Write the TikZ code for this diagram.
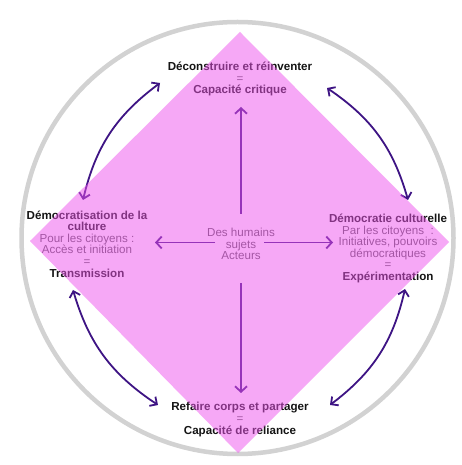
\documentclass[tikz,border=0pt]{standalone}
\usepackage{fontspec}
\setmainfont{Liberation Sans}
\usetikzlibrary{arrows.meta}
\begin{document}
\begin{tikzpicture}[x=1pt,y=1pt,
  label/.style={align=center,inner sep=0pt,outer sep=0pt,text=textColor,
    font=\fontsize{11.6}{11.6}\selectfont},
  plain/.style={text=softColor},
  spoke/.style={draw=arrowColor,line width=1.8pt,-{Straight Barb[length=5.5pt,width=12pt]}},
  swing/.style={draw=arrowColor,line width=1.8pt,
    {Straight Barb[length=5.5pt,width=11pt]}-{Straight Barb[length=5.5pt,width=11pt]}}]
\definecolor{textColor}{RGB}{20,20,20}
\definecolor{softColor}{RGB}{90,90,90}
\definecolor{arrowColor}{RGB}{62,20,132}
\definecolor{ringColor}{RGB}{210,210,210}
\definecolor{fillColor}{RGB}{238,82,238}
\path[use as bounding box,fill=white] (0,0) rectangle (462,465);

% outer ring
\path[draw=ringColor,line width=4.5pt] (237.5,227.0) circle (216);

% texts (the diamond is laid over them afterwards)
\node[label] (top) at (240,386.0) {\bfseries Déconstruire et réinventer\\
  {\color{softColor}=}\\
  \bfseries Capacité critique};

\node[label] (left) at (87,221.0) {\bfseries Démocratisation de la\\
  \bfseries culture\\
  {\color{softColor}Pour les citoyens :}\\
  {\color{softColor}Accès et initiation}\\
  {\color{softColor}=}\\
  \bfseries Transmission};

\node[label] (right) at (388,216.5) {\bfseries Démocratie culturelle\\
  {\color{softColor}Par les citoyens~ :}\\
  {\color{softColor}Initiatives, pouvoirs}\\
  {\color{softColor}démocratiques}\\
  {\color{softColor}=}\\
  \bfseries Expérimentation};

\node[label,plain] (hub) at (241,221.0) {Des humains\\ sujets\\ Acteurs};

\node[label] (bottom) at (240,45.5) {\bfseries Refaire corps et partager\\
  {\color{softColor}=}\\
  \bfseries Capacité de reliance};

% arrow ends
\coordinate (hubN) at (241,251);
\coordinate (hubS) at (241,182);
\coordinate (hubW) at (215,222.5);
\coordinate (hubE) at (264,222.5);
\coordinate (tipN) at (241,358);
\coordinate (tipS) at (241,72);
\coordinate (tipW) at (155,222.5);
\coordinate (tipE) at (333,222.5);

\coordinate (nwA) at (83,265);
\coordinate (nwB) at (160,382);
\coordinate (neA) at (327,377);
\coordinate (neB) at (408,265);
\coordinate (swA) at (73,175);
\coordinate (swB) at (158,60);
\coordinate (seA) at (405,176);
\coordinate (seB) at (330,60);

\draw[spoke] (hubN) -- (tipN);
\draw[spoke] (hubS) -- (tipS);
\draw[spoke] (hubW) -- (tipW);
\draw[spoke] (hubE) -- (tipE);

\draw[swing] (nwA) to[bend left=20] (nwB);
\draw[swing] (neA) to[bend left=20] (neB);
\draw[swing] (swA) to[bend right=20] (swB);
\draw[swing] (seA) to[bend left=20] (seB);

% diamond
\path[fill=fillColor,fill opacity=0.5] (240,433) -- (449,223) -- (238,12) -- (30,224) -- cycle;
\end{tikzpicture}
\end{document}
